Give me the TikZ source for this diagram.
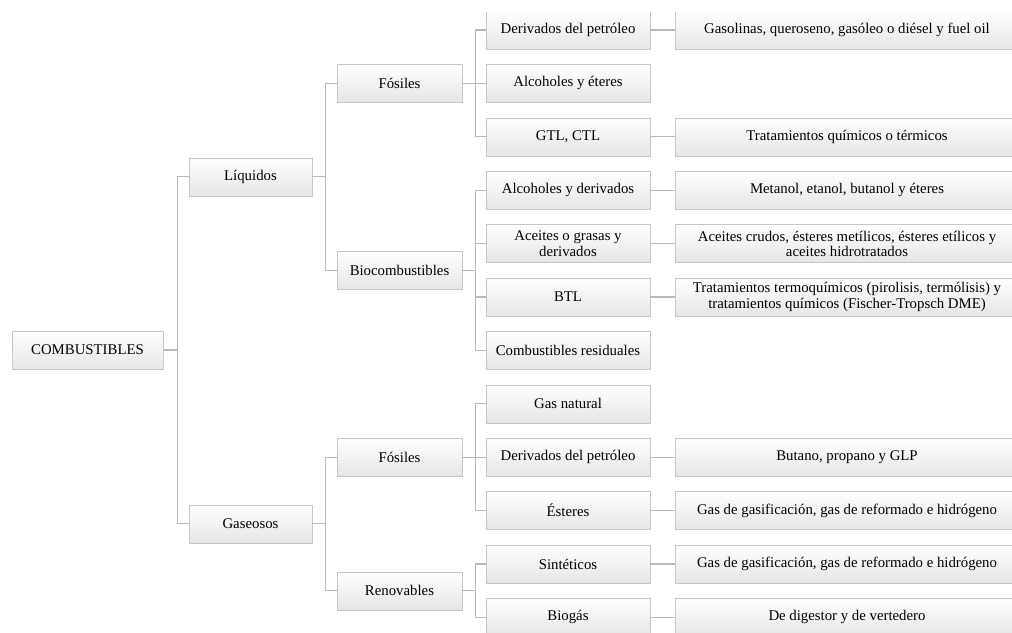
\documentclass[tikz,border=0pt]{standalone}
\usepackage{fontspec}
\setmainfont{Liberation Serif}
\usepackage{tikz}

\tikzset{
  box/.style={draw=gray!45, top color=white, bottom color=gray!20, minimum height=38pt,
    inner sep=2pt, align=center, font=\fontsize{14.8}{15.2}\selectfont},
  link/.style={draw=gray!55, line width=1.1pt},
}

\begin{document}
\begin{tikzpicture}[x=1pt, y=-1pt]
  \useasboundingbox (0,0) rectangle (1012,632);
  \clip (0,12) rectangle (1012,632);
  % root and first level
  \node[box, minimum width=151pt] (comb) at (87.5,350) {COMBUSTIBLES};
  \node[box, minimum width=123pt] (liq) at (250.5,176.8) {Líquidos};
  \node[box, minimum width=123pt] (gas) at (250.5,523.8) {Gaseosos};
  % second level
  \node[box, minimum width=125pt] (lfos) at (399.5,83.4) {Fósiles};
  \node[box, minimum width=125pt] (bio) at (399.5,270.3) {Biocombustibles};
  \node[box, minimum width=125pt] (gfos) at (399.5,457.2) {Fósiles};
  \node[box, minimum width=125pt] (ren) at (399.5,590.7) {Renovables};
  % third level
  \node[box, minimum width=164pt] (petl) at (568,30) {Derivados del petróleo};
  \node[box, minimum width=164pt] (alceter) at (568,83.4) {Alcoholes y éteres};
  \node[box, minimum width=164pt] (gtl) at (568,136.8) {GTL, CTL};
  \node[box, minimum width=164pt] (alcder) at (568,190.2) {Alcoholes y derivados};
  \node[box, minimum width=164pt] (aceites) at (568,243.6) {Aceites o grasas y\\derivados};
  \node[box, minimum width=164pt] (btl) at (568,297) {BTL};
  \node[box, minimum width=164pt] (resid) at (568,350.4) {Combustibles residuales};
  \node[box, minimum width=164pt] (gasnat) at (568,403.8) {Gas natural};
  \node[box, minimum width=164pt] (petg) at (568,457.2) {Derivados del petróleo};
  \node[box, minimum width=164pt] (ester) at (568,510.6) {Ésteres};
  \node[box, minimum width=164pt] (sint) at (568,564) {Sintéticos};
  \node[box, minimum width=164pt] (biogas) at (568,617.4) {Biogás};
  % fourth level
  \node[box, minimum width=344pt] (gasolinas) at (847,30) {Gasolinas, queroseno, gasóleo o diésel y fuel oil};
  \node[box, minimum width=344pt] (tratq) at (847,136.8) {Tratamientos químicos o térmicos};
  \node[box, minimum width=344pt] (metanol) at (847,190.2) {Metanol, etanol, butanol y éteres};
  \node[box, minimum width=344pt] (crudos) at (847,243.6) {Aceites crudos, ésteres metílicos, ésteres etílicos y\\aceites hidrotratados};
  \node[box, minimum width=344pt] (termo) at (847,297) {Tratamientos termoquímicos (pirolisis, termólisis) y\\tratamientos químicos (Fischer-Tropsch DME)};
  \node[box, minimum width=344pt] (butano) at (847,457.2) {Butano, propano y GLP};
  \node[box, minimum width=344pt] (gasif1) at (847,510.6) {Gas de gasificación, gas de reformado e hidrógeno};
  \node[box, minimum width=344pt] (gasif2) at (847,564) {Gas de gasificación, gas de reformado e hidrógeno};
  \node[box, minimum width=344pt] (digestor) at (847,617.4) {De digestor y de vertedero};
  % elbow connectors
  \foreach \c in {liq,gas}
    \draw[link] (comb.east) -- ++(14,0) |- (\c.west);
  \foreach \c in {lfos,bio}
    \draw[link] (liq.east) -- ++(13,0) |- (\c.west);
  \foreach \c in {gfos,ren}
    \draw[link] (gas.east) -- ++(13,0) |- (\c.west);
  \foreach \c in {petl,alceter,gtl}
    \draw[link] (lfos.east) -- ++(13,0) |- (\c.west);
  \foreach \c in {alcder,aceites,btl,resid}
    \draw[link] (bio.east) -- ++(13,0) |- (\c.west);
  \foreach \c in {gasnat,petg,ester}
    \draw[link] (gfos.east) -- ++(13,0) |- (\c.west);
  \foreach \c in {sint,biogas}
    \draw[link] (ren.east) -- ++(13,0) |- (\c.west);
  % straight links to the last column
  \foreach \a/\b in {petl/gasolinas,gtl/tratq,alcder/metanol,aceites/crudos,btl/termo,
                     petg/butano,ester/gasif1,sint/gasif2,biogas/digestor}
    \draw[link] (\a.east) -- (\b.west);
\end{tikzpicture}
\end{document}
